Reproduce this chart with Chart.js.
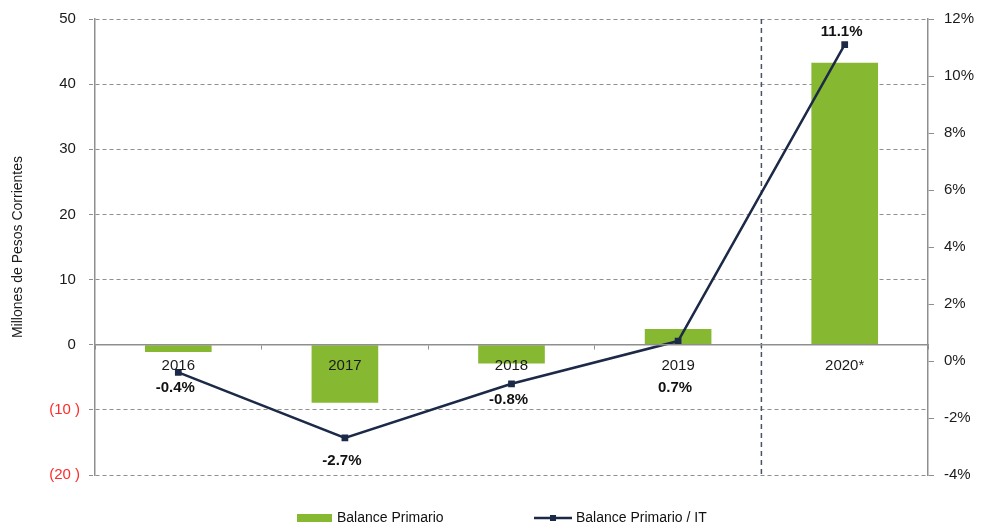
<!DOCTYPE html>
<html>
<head>
<meta charset="utf-8">
<script src="https://cdn.jsdelivr.net/npm/chart.js@4.4.0/dist/chart.umd.min.js"></script>
<style>
  html, body { margin: 0; padding: 0; background: #fff; }
  #wrap { width: 987px; height: 529px; position: relative; }
</style>
</head>
<body>
<div id="wrap"><canvas id="chart"></canvas></div>
<script>
// data
const years = ["2016", "2017", "2018", "2019", "2020*"];
const balancePrimario = [-1.1, -8.9, -2.9, 2.4, 43.3];   // millones de pesos
const balanceSobreIT = [-0.4, -2.7, -0.8, 0.7, 11.1];     // %
const pctLabels = ["-0.4%", "-2.7%", "-0.8%", "0.7%", "11.1%"];
// where each % label sits relative to its point (px, + is down)
const labelShift = [15, 23, 16, 47, -13];

const FONT = '"Liberation Sans", Arial, sans-serif';
const GRID = "#8f8f8f";
const GREEN = "#86b832";
const NAVY = "#1c2a48";

Chart.defaults.font.family = FONT;
Chart.defaults.font.size = 15;
Chart.defaults.color = "#1a1a1a";

// dashed separator before the estimated year
const separator = {
  id: "separator",
  beforeDatasetsDraw(chart) {
    const x = chart.scales.x;
    const a = chart.chartArea;
    const px = (x.getPixelForValue(3) + x.getPixelForValue(4)) / 2;
    const ctx = chart.ctx;
    ctx.save();
    ctx.strokeStyle = "#4b5263";
    ctx.lineWidth = 1.5;
    ctx.setLineDash([5, 4]);
    ctx.beginPath();
    ctx.moveTo(px, a.top);
    ctx.lineTo(px, a.bottom);
    ctx.stroke();
    ctx.restore();
  }
};

// bold % labels next to the line points
const pointLabels = {
  id: "pointLabels",
  afterDatasetsDraw(chart) {
    const meta = chart.getDatasetMeta(1);
    const ctx = chart.ctx;
    ctx.save();
    ctx.font = "bold 15px " + FONT;
    ctx.fillStyle = "#111";
    ctx.textAlign = "center";
    ctx.textBaseline = "middle";
    meta.data.forEach((pt, i) => {
      ctx.fillText(pctLabels[i], pt.x - 3, pt.y + labelShift[i]);
    });
    ctx.restore();
  }
};

// legend under the plot
const bottomLegend = {
  id: "bottomLegend",
  afterDraw(chart) {
    const ctx = chart.ctx;
    const y = 518;
    ctx.save();
    ctx.font = "14px " + FONT;
    ctx.textBaseline = "middle";
    ctx.fillStyle = GREEN;
    ctx.fillRect(297, y - 4, 35, 8);
    ctx.fillStyle = "#111";
    ctx.fillText(chart.data.datasets[0].label, 337, y);
    ctx.strokeStyle = NAVY;
    ctx.lineWidth = 2.5;
    ctx.beginPath();
    ctx.moveTo(534, y);
    ctx.lineTo(572, y);
    ctx.stroke();
    ctx.fillStyle = NAVY;
    ctx.fillRect(550, y - 3, 6, 6);
    ctx.fillStyle = "#111";
    ctx.fillText(chart.data.datasets[1].label, 576, y);
    ctx.restore();
  }
};

new Chart(document.getElementById("chart"), {
  type: "bar",
  data: {
    labels: years,
    datasets: [
      {
        label: "Balance Primario",
        data: balancePrimario,
        backgroundColor: GREEN,
        barPercentage: 0.4,
        categoryPercentage: 1,
        yAxisID: "y",
        order: 2
      },
      {
        type: "line",
        label: "Balance Primario / IT",
        data: balanceSobreIT,
        borderColor: NAVY,
        borderWidth: 2.5,
        pointStyle: "rect",
        pointRadius: 3,
        pointBackgroundColor: NAVY,
        pointBorderColor: NAVY,
        tension: 0,
        yAxisID: "y2",
        order: 1
      }
    ]
  },
  options: {
    responsive: true,
    maintainAspectRatio: false,
    animation: false,
    layout: { padding: { top: 19, bottom: 54, left: 0, right: 0 } },
    plugins: {
      legend: { display: false },
      tooltip: { enabled: false }
    },
    scales: {
      x: {
        type: "category",
        position: { y: 0 },
        offset: true,
        grid: {
          offset: true,
          drawOnChartArea: false,
          tickLength: 4,
          color: GRID
        },
        border: { color: GRID, width: 1.5, z: 1 },
        ticks: { padding: 8, color: "#1a1a1a", z: 1 },
        afterFit(s) { s.paddingLeft = 0; s.paddingRight = 0; }
      },
      y: {
        position: "left",
        min: -20,
        max: 50,
        ticks: {
          stepSize: 10,
          padding: 9,
          callback: v => v < 0 ? "(" + Math.abs(v) + " )" : v + " ",
          color: ctx => ctx.tick && ctx.tick.value < 0 ? "#ff2a2a" : "#1a1a1a"
        },
        grid: {
          color: GRID,
          tickLength: 6,
          tickBorderDash: [4, 3]
        },
        border: {
          color: GRID,
          width: 1.5,
          dash: ctx => ctx.tick && ctx.tick.value === 0 ? [] : [4, 3]
        },
        title: {
          display: true,
          text: "Millones de Pesos Corrientes",
          font: { size: 14 },
          color: "#1a1a1a",
          padding: { top: 10, bottom: 0 }
        },
        afterFit(s) { s.width = 95; s.paddingTop = 0; s.paddingBottom = 0; }
      },
      y2: {
        position: "right",
        min: -4,
        max: 12,
        ticks: {
          stepSize: 2,
          padding: 10,
          callback: v => v + "%",
          color: "#1a1a1a"
        },
        grid: {
          drawOnChartArea: false,
          color: GRID,
          tickLength: 6
        },
        border: { color: GRID, width: 1.5 },
        afterFit(s) { s.width = 59; s.paddingTop = 0; s.paddingBottom = 0; }
      }
    }
  },
  plugins: [separator, pointLabels, bottomLegend]
});
</script>
</body>
</html>
